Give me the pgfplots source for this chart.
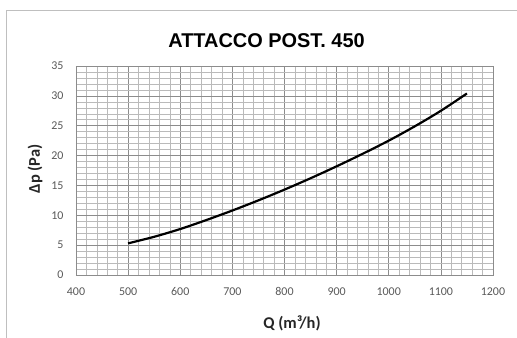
\documentclass[border=0pt]{standalone}
\usepackage{fontspec}
\setmainfont{Carlito}
\newfontfamily\titlefont{Liberation Sans}
\usepackage{pgfplots}
\pgfplotsset{compat=1.18}
\begin{document}
\begin{tikzpicture}
\begin{axis}[
  scale only axis,
  width=417bp, height=209bp,
  xmin=400, xmax=1200, ymin=0, ymax=35,
  xtick distance=100, ytick distance=5,
  minor x tick num=4, minor y tick num=4,
  grid=both,
  major grid style={black!45, line width=0.7bp},
  minor grid style={black!27, line width=0.5bp},
  axis line style={black!45},
  major tick length=0pt, minor tick length=0pt,
  tick label style={font=\fontsize{12}{13}\selectfont, text=black!65},
  /pgf/number format/assume math mode=true,
  /pgf/number format/1000 sep={},
  xticklabel style={yshift=-9bp, text height=7.5bp, text depth=0bp},
  yticklabel style={xshift=-9bp},
  xlabel={Q (m³/h)},
  xlabel style={at={(rel axis cs:0.518,-0.23)}, anchor=center, font=\fontsize{16.5}{18}\selectfont\bfseries, text=black!85},
  ylabel={Δp (Pa)},
  ylabel style={at={(rel axis cs:-0.098,0.507)}, anchor=center, font=\fontsize{16.5}{18}\selectfont\bfseries, text=black!85},
  title={ATTACCO POST. 450},
  title style={at={(rel axis cs:0.457,1.091)}, anchor=center, font=\titlefont\fontsize{20}{22}\selectfont\bfseries},
]
\addplot[black, line width=2.2bp, smooth] coordinates {
(500,5.3) (550,6.4) (600,7.7) (650,9.2) (700,10.8) (750,12.5) (800,14.3)
(850,16.2) (900,18.2) (950,20.3) (1000,22.5) (1050,24.9) (1100,27.5) (1150,30.4)
};
\end{axis}
\draw[black!25, line width=1bp] (-69bp,-63bp) -- (-69bp,264bp) -- (441bp,264bp);
\pgfresetboundingbox
\useasboundingbox (-76bp,-63bp) rectangle (441bp,275bp);
\end{tikzpicture}
\end{document}
